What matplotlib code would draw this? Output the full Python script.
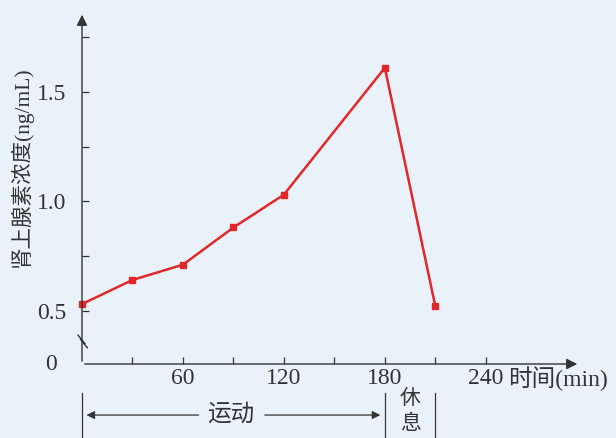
import matplotlib.pyplot as plt
from matplotlib.transforms import blended_transform_factory

plt.rcParams['font.family'] = ['Liberation Serif', 'Noto Sans CJK SC']

# data
time_min = [0, 30, 60, 90, 120, 180, 210]
conc = [0.53, 0.64, 0.71, 0.88, 1.03, 1.61, 0.52]

xticks = [60, 120, 180, 240]
xminor = [30, 90, 150, 210]
yticks = [0.5, 1.0, 1.5]
ylabels = ['0.5', '1.0', '1.5']
yminor = [0.75, 1.25, 1.75]

bg = '#eaf2f9'
ink = '#333333'
red = '#e0282a'

fig = plt.figure(figsize=(6.16, 4.38), dpi=100, facecolor=bg)
ax = fig.add_axes([82 / 616, 74 / 438, 498 / 616, 352 / 438])
ax.set_facecolor(bg)

ax.plot(time_min, conc, color=red, lw=1.8, marker='s', ms=4.5, clip_on=False, zorder=3)

ax.set_xlim(0, 296)
ax.set_ylim(0.256, 1.865)
for s in ax.spines.values():
    s.set_visible(False)

# axes with arrows
ax.annotate('', xy=(1, 0), xytext=(0, 0), xycoords='axes fraction',
            arrowprops=dict(arrowstyle='-|>', color=ink, lw=1, mutation_scale=16))
ax.annotate('', xy=(0, 1), xytext=(0, 0), xycoords='axes fraction',
            arrowprops=dict(arrowstyle='-|>', color=ink, lw=1, mutation_scale=16))

# axis break marks
for off in (0, 0.012):
    ax.plot([-0.008 + off * 0.4, 0.006 + off * 0.4], [0.082 - off, 0.058 - off],
            transform=ax.transAxes, color=ink, lw=1.0, clip_on=False)

ax.set_xticks(xticks)
ax.set_xticklabels([str(v) for v in xticks])
ax.set_xticks(xminor, minor=True)
ax.set_yticks(yticks)
ax.set_yticklabels(ylabels)
ax.set_yticks(yminor, minor=True)
ax.tick_params(which='both', direction='in', length=5, color=ink, width=0.9,
               labelsize=17, labelcolor=ink)
ax.tick_params(axis='x', pad=3)
ax.tick_params(axis='y', pad=11)

ax.text(-0.05, 0.0, '0', transform=ax.transAxes, ha='right', va='center',
        fontsize=17, color=ink)

ax.set_ylabel('肾上腺素浓度(ng/mL)', fontsize=15.5, color=ink)
ax.yaxis.set_label_coords(-0.1, 0.56)
tr = blended_transform_factory(ax.transData, ax.transAxes)
ax.text(253, -0.042, '时间(min)', transform=tr, ha='left', va='center',
        fontsize=17, color=ink)

# phases below the axis
for x in (0, 180, 210):
    ax.plot([x, x], [-0.082, -0.22], transform=tr, color=ink, lw=0.9, clip_on=False)
ya = -0.145
ax.annotate('', xy=(1, ya), xytext=(71, ya), xycoords=tr, textcoords=tr,
            arrowprops=dict(arrowstyle='-|>', color=ink, lw=0.9, mutation_scale=12))
ax.annotate('', xy=(179, ya), xytext=(107, ya), xycoords=tr, textcoords=tr,
            arrowprops=dict(arrowstyle='-|>', color=ink, lw=0.9, mutation_scale=12))
ax.text(88.5, ya, '运动', transform=tr, ha='center', va='center', fontsize=17, color=ink)
ax.text(195, -0.1, '休', transform=tr, ha='center', va='center', fontsize=15, color=ink)
ax.text(195, -0.172, '息', transform=tr, ha='center', va='center', fontsize=15, color=ink)

fig.savefig('out.png', dpi=100, facecolor=bg)
